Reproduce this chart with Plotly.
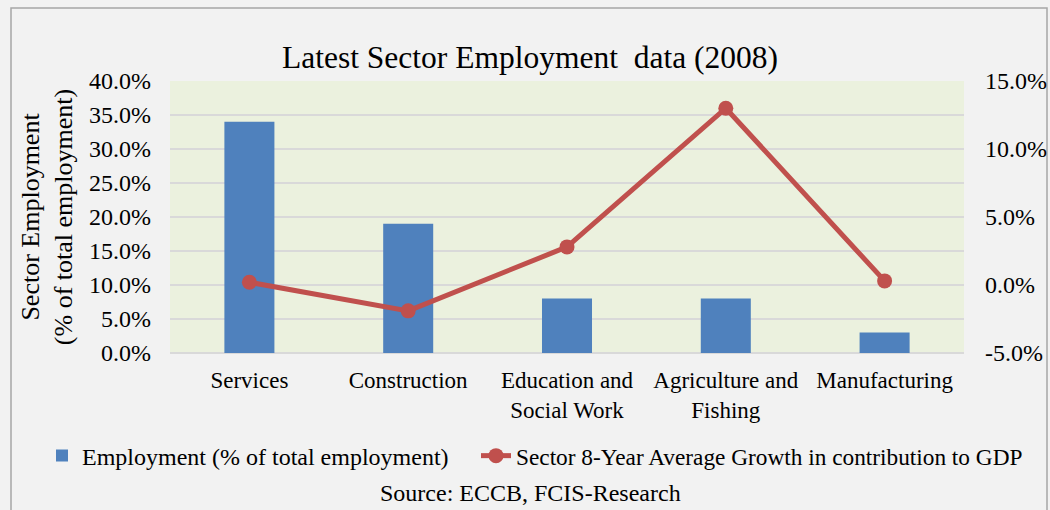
import plotly.graph_objects as go

categories = ["Services", "Construction", "Education and<br>Social Work",
              "Agriculture and<br>Fishing", "Manufacturing"]
employment_pct = [34.0, 19.0, 8.0, 8.0, 3.0]
gdp_growth_pct = [0.2, -1.9, 2.8, 13.0, 0.3]

left_ticks = [0, 5, 10, 15, 20, 25, 30, 35, 40]
right_ticks = [-5, 0, 5, 10, 15]

FONT = "Liberation Serif, Times New Roman, serif"
BAR_BLUE = "#4f81bd"
LINE_RED = "#c0504d"

# plot area in pixels: left 170, right 964, top 81, bottom 353
pw, ph = 794, 272


def px_x(x):
    return (x - 170) / pw


def px_y(y):
    return (353 - y) / ph


fig = go.Figure()
fig.add_trace(go.Bar(
    x=categories, y=employment_pct,
    name="Employment (% of total employment)",
    marker=dict(color=BAR_BLUE, line=dict(width=0)),
    yaxis="y", legend="legend",
))
fig.add_trace(go.Scatter(
    x=categories, y=gdp_growth_pct,
    name="Sector 8-Year Average Growth in contribution to GDP",
    mode="lines+markers",
    line=dict(color=LINE_RED, width=5),
    marker=dict(color=LINE_RED, size=15),
    yaxis="y2", legend="legend2",
))

legend_common = dict(bgcolor="rgba(0,0,0,0)", yanchor="middle",
                     xanchor="left", y=px_y(456))

fig.update_layout(
    width=1050, height=510,
    margin=dict(l=170, r=86, t=81, b=157, autoexpand=False),
    paper_bgcolor="#f2f2f2",
    plot_bgcolor="#ebf1de",
    font=dict(family=FONT, size=24, color="#000000"),
    title=dict(text="Latest Sector Employment  data (2008)",
               x=px_x(530), xref="paper", xanchor="center",
               y=1 - 57 / 510, yanchor="middle",
               font=dict(family=FONT, size=31.5)),
    bargap=0.685,
    showlegend=True,
    legend=dict(x=px_x(42), font=dict(family=FONT, size=24),
                **legend_common),
    legend2=dict(x=px_x(476), font=dict(family=FONT, size=23.3),
                 **legend_common),
    xaxis=dict(showgrid=False, ticks="", tickfont=dict(size=23),
               showline=False, zeroline=False, ticklabelstandoff=11),
    yaxis=dict(range=[0, 40], tickvals=left_ticks,
               ticktext=[f"{v:.1f}%" for v in left_ticks],
               showgrid=True, gridcolor="#d9d9d9", gridwidth=2,
               zeroline=True, zerolinecolor="#d9d9d9", zerolinewidth=2,
               tickfont=dict(size=24), ticks="", ticklabelstandoff=18,
               title=dict(text="Sector Employment<br>(% of total employment)",
                          font=dict(size=26), standoff=8)),
    yaxis2=dict(range=[-5, 15], tickvals=right_ticks,
                ticktext=[f"{v:.1f}%" for v in right_ticks],
                overlaying="y", side="right", showgrid=False,
                zeroline=False, tickfont=dict(size=24), ticks="",
                ticklabelstandoff=20),
    annotations=[dict(text="Source: ECCB, FCIS-Research",
                      xref="paper", yref="paper",
                      x=px_x(530), y=px_y(493),
                      xanchor="center", yanchor="middle",
                      showarrow=False, font=dict(family=FONT, size=24))],
    shapes=[dict(type="rect", xref="paper", yref="paper",
                 x0=px_x(11), x1=px_x(1047),
                 y0=px_y(515), y1=px_y(8),
                 line=dict(color="#a6a6a6", width=1.5),
                 fillcolor="rgba(0,0,0,0)", layer="below")],
)

fig.write_html("out.html")
